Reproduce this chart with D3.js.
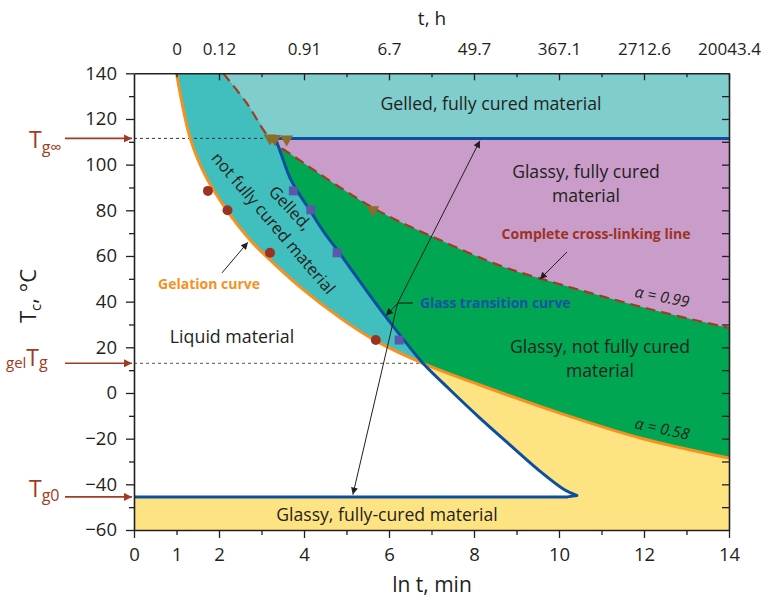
<!DOCTYPE html>
<html>
<head>
<meta charset="utf-8">
<script src="https://cdn.jsdelivr.net/npm/d3@7"></script>
<style>
body { margin: 0; background: #fff; }
svg text { font-family: "Open Sans", sans-serif; fill: #231f20; }
</style>
</head>
<body>
<div id="chart"></div>
<script>
const width = 769, height = 601

// curves: [ln t (min), T (°C)]
const gelationCurve = [[1.0,140],[1.32,111.7],[1.67,95.5],[2.21,79.3],[2.73,67.0],[3.2,58.3],[3.91,46.4],[4.85,32.9],[5.69,22.8],[6.8,13],[8.14,3.5],[10.02,-8.8],[11.91,-19.7],[14,-28.5]]
const glassCurve = [[3.33,111.5],[3.51,102.1],[3.67,94.2],[3.84,88.5],[4.12,80.6],[4.45,71.0],[4.85,60.9],[5.34,48.2],[5.86,35.0],[6.33,23.7],[6.8,13],[7.44,1.3],[8.14,-11.0],[8.85,-22.8],[9.55,-34.2],[10.14,-42.5],[10.42,-44.9]]
const crossLinkCurve = [[2.1,140],[2.65,127],[3.2,111.5],[3.83,102.8],[5.71,80.2],[7.2,67],[8.57,56.1],[9.55,50.2],[12.06,37.1],[14,28.5]]

// measured points
const gelPoints = [[1.74,88.5],[2.2,80],[3.2,61.4],[5.69,23.2]]
const glassPoints = [[3.75,88.5],[4.16,80.2],[4.78,61.4],[6.24,23.2]]
const crossPoints = [[3.2,110.8],[3.31,110.6],[3.59,110.3],[5.62,79.4]]

const TgInf = 111.5
const gelTg = 13
const Tg0 = -45.5

const bottomTicks = [0,1,2,4,6,8,10,12,14]
const leftTicks = [-60,-40,-20,0,20,40,60,80,100,120,140]
const topTickPos = [1,2,4,6,8,10,12,14]
const topTickLabels = ["0","0.12","0.91","6.7","49.7","367.1","2712.6","20043.4"]

const x = d3.scaleLinear().domain([0,14]).range([134,729])
const y = d3.scaleLinear().domain([-60,140]).range([530,73.3])

const svg = d3.select("#chart").append("svg")
    .attr("width", width)
    .attr("height", height)

const defs = svg.append("defs")
defs.append("clipPath").attr("id","plot")
    .append("rect").attr("x", x(0)).attr("y", y(140)).attr("width", x(14)-x(0)).attr("height", y(-60)-y(140))
function marker(id, color, w, h) {
    defs.append("marker").attr("id", id)
        .attr("viewBox", "0 0 10 10").attr("refX", 10).attr("refY", 5)
        .attr("markerWidth", w).attr("markerHeight", h).attr("markerUnits","userSpaceOnUse")
        .attr("orient", "auto-start-reverse")
        .append("path").attr("d", "M0,0L10,5L0,10Z").attr("fill", color)
}
marker("blk", "#231f20", 10, 7)
marker("red", "#a03b25", 13, 8)

const line = d3.line().x(d => x(d[0])).y(d => y(d[1])).curve(d3.curveCatmullRom.alpha(0.5))
const cont = pts => line(pts).replace(/^M/, "L")
const pt = (a, b) => "L" + x(a) + "," + y(b)

const iGel = gelationCurve.findIndex(d => d[0] === 6.8)
const iGlass = glassCurve.findIndex(d => d[0] === 6.8)
const iCross = crossLinkCurve.findIndex(d => d[1] === TgInf)
const gelUpper = gelationCurve.slice(0, iGel + 1)
const glassUpper = glassCurve.slice(0, iGlass + 1)
const glassLower = glassCurve.slice(iGlass)
const crossUpper = crossLinkCurve.slice(0, iCross + 1)

const g = svg.append("g").attr("clip-path", "url(#plot)")

g.append("rect").attr("x", x(0)).attr("y", y(140)).attr("width", x(14)-x(0)).attr("height", y(-60)-y(140)).attr("fill", "#fee383")
g.append("path").attr("d", line(gelationCurve) + pt(14,140) + "Z").attr("fill", "#00a651")
g.append("path").attr("d", line(crossLinkCurve) + pt(14,140) + "Z").attr("fill", "#c99cc9")
g.append("path").attr("d", line(crossUpper) + pt(14,TgInf) + pt(14,140) + "Z").attr("fill", "#80cdcd")
g.append("path").attr("d", line(gelUpper) + cont(glassUpper.slice().reverse()) + cont(crossUpper.slice().reverse()) + "Z").attr("fill", "#41bfbf")
g.append("path").attr("d", "M" + x(0) + "," + y(140) + cont(gelUpper) + cont(glassLower) + pt(10.2,Tg0) + pt(0,Tg0) + "Z").attr("fill", "#fff")

// dotted level lines
g.append("path").attr("d", "M" + x(0) + "," + y(TgInf) + pt(3.2,TgInf)).attr("stroke","#333").attr("stroke-dasharray","3,3").attr("fill","none")
g.append("path").attr("d", "M" + x(0) + "," + y(gelTg) + pt(6.8,gelTg)).attr("stroke","#555").attr("stroke-dasharray","3,3").attr("fill","none")

g.append("path").attr("d", line(gelationCurve)).attr("fill","none").attr("stroke","#f7901e").attr("stroke-width",3)
g.append("path").attr("d", line(crossLinkCurve)).attr("fill","none").attr("stroke","#a03b25").attr("stroke-width",2.2).attr("stroke-dasharray","10,6")
g.append("path").attr("d", "M" + x(14) + "," + y(TgInf) + cont(glassCurve) + pt(10.2,Tg0) + pt(0,Tg0))
    .attr("fill","none").attr("stroke","#0d4f9f").attr("stroke-width",3).attr("stroke-linejoin","round")

// markers
svg.selectAll(".gp").data(gelPoints).join("circle").attr("class","gp")
    .attr("cx", d => x(d[0])).attr("cy", d => y(d[1])).attr("r", 5).attr("fill", "#9b3324")
svg.selectAll(".sp").data(glassPoints).join("rect").attr("class","sp")
    .attr("x", d => x(d[0]) - 4.5).attr("y", d => y(d[1]) - 4.5).attr("width", 9).attr("height", 9).attr("fill", "#5a58aa")
svg.selectAll(".tp").data(crossPoints).join("path").attr("class","tp")
    .attr("d", d => "M" + (x(d[0]) - 6.5) + "," + (y(d[1]) - 5.5) + "h13l-6.5,11Z").attr("fill", "#8b6c2d")

// axes
const frame = svg.append("g")
const ax1 = frame.append("g").attr("transform", "translate(0," + y(-60) + ")")
    .call(d3.axisBottom(x).tickValues(d3.range(0,15)).tickSize(8).tickSizeOuter(0).tickPadding(10)
        .tickFormat(d => bottomTicks.includes(d) ? d : ""))
ax1.selectAll(".tick line").filter(d => d % 2 === 1).attr("y2", 5)
const ax2 = frame.append("g").attr("transform", "translate(" + x(0) + ",0)")
    .call(d3.axisLeft(y).tickValues(d3.range(-60,141,10)).tickSize(8).tickSizeOuter(0).tickPadding(9)
        .tickFormat(d => leftTicks.includes(d) ? d3.format("")(d) : ""))
ax2.selectAll(".tick line").filter(d => !leftTicks.includes(d)).attr("x2", -5)
const ax3 = frame.append("g").attr("transform", "translate(0," + y(140) + ")")
    .call(d3.axisTop(x).tickValues(d3.range(1,15)).tickSize(-7).tickSizeOuter(0).tickPadding(18)
        .tickFormat(d => topTickPos.includes(d) ? topTickLabels[topTickPos.indexOf(d)] : ""))
ax3.selectAll(".tick line").filter(d => d % 2 === 1).attr("y2", 4)
frame.append("g").attr("transform", "translate(" + x(14) + ",0)")
    .call(d3.axisRight(y).tickValues(d3.range(-50,140,10)).tickSize(-7).tickSizeOuter(0).tickFormat(""))
frame.selectAll(".domain").attr("stroke", "#231f20").attr("stroke-width", 1.6)
frame.selectAll(".tick line").attr("stroke", "#231f20").attr("stroke-width", 1.3)
frame.selectAll(".tick text").attr("font-size", 18.5).attr("font-family", "Open Sans").attr("fill", "#231f20")
ax3.selectAll(".tick text").attr("font-size", 17)

// axis titles
svg.append("text").attr("x", 432).attr("y", 592).attr("text-anchor","middle").attr("font-size", 21).text("ln t, min")
svg.append("text").attr("x", 432).attr("y", 25).attr("text-anchor","middle").attr("font-size", 19).text("t, h")
const yt = svg.append("text").attr("transform", "translate(36,296) rotate(-90)").attr("text-anchor","middle").attr("font-size", 22)
yt.append("tspan").text("T")
yt.append("tspan").attr("font-size", 15).attr("dy", 5).text("c")
yt.append("tspan").attr("dy", -5).text(", °C")

// level labels with arrows
const red = "#a03b25"
function levelArrow(val) {
    svg.append("line").attr("x1", 65).attr("x2", 132).attr("y1", y(val)).attr("y2", y(val))
        .attr("stroke", red).attr("stroke-width", 1.6).attr("marker-end", "url(#red)")
}
levelArrow(TgInf); levelArrow(gelTg); levelArrow(Tg0)
let t = svg.append("text").attr("x", 29).attr("y", y(TgInf) + 10).attr("font-size", 23).style("fill", red)
t.append("tspan").text("T")
t.append("tspan").attr("font-size", 16).attr("dy", 5).text("g∞")
t = svg.append("text").attr("x", 6).attr("y", y(gelTg) + 3).attr("font-size", 23).style("fill", red)
t.append("tspan").attr("font-size", 15).attr("dy", 2).text("gel")
t.append("tspan").attr("dy", -2).text("T")
t.append("tspan").attr("font-size", 16).attr("dy", 2).text("g")
t = svg.append("text").attr("x", 29).attr("y", y(Tg0)).attr("font-size", 23).style("fill", red)
t.append("tspan").text("T")
t.append("tspan").attr("font-size", 16).attr("dy", 4).text("g0")

// region labels
function label(txt, px, py, size, opts = {}) {
    const el = svg.append("text").attr("x", px).attr("y", py).attr("text-anchor", opts.anchor || "middle")
        .attr("font-size", size).text(txt)
    if (opts.rot) el.attr("transform", "rotate(" + opts.rot + "," + px + "," + py + ")")
    if (opts.color) el.style("fill", opts.color)
    if (opts.bold) el.attr("font-weight", "bold")
    if (opts.italic) el.attr("font-style", "italic")
    return el
}
label("Gelled, fully cured material", 491, 110, 17.7)
label("Glassy, fully cured", 586, 178, 17.6)
label("material", 586, 202, 17.6)
label("Glassy, not fully cured", 600, 353, 17.6)
label("material", 600, 377, 17.6)
label("Glassy, fully-cured material", 387, 521, 17.6)
label("Liquid material", 232, 343, 17.8)
label("not fully cured material", 269, 227, 16.6, {rot: 49.5})
label("Gelled,", 286, 212, 16.6, {rot: 47})
label("Complete cross-linking line", 596, 239, 14, {bold: true, color: "#9b3324"})
label("Glass transition curve", 420, 308, 13.8, {bold: true, color: "#1553a5", anchor: "start"})
label("Gelation curve", 209, 289, 14, {bold: true, color: "#f7901e"})
label("α = 0.99", 661, 302, 15.5, {italic: true, rot: 11})
label("α = 0.58", 661, 434, 15.5, {italic: true, rot: 12})

// pointer arrows
const plain = d3.line().x(d => x(d[0])).y(d => y(d[1]))
function arrow(pts, both) {
    const p = svg.append("path").attr("d", plain(pts)).attr("fill","none")
        .attr("stroke", "#231f20").attr("stroke-width", 1).attr("marker-end", "url(#blk)")
    if (both) p.attr("marker-start", "url(#blk)")
}
arrow([[2.07,52.6],[2.68,66]])
arrow([[10.19,61.8],[9.55,49.8]])
arrow([[8.14,110.5],[6.2,39.2],[5.15,-44.5]], true)
arrow([[6.2,39.2],[5.93,33.9]])
svg.append("path").attr("d", plain([[6.2,39.4],[6.56,39.4]])).attr("stroke","#231f20").attr("stroke-width",1.2)
</script>
</body>
</html>
